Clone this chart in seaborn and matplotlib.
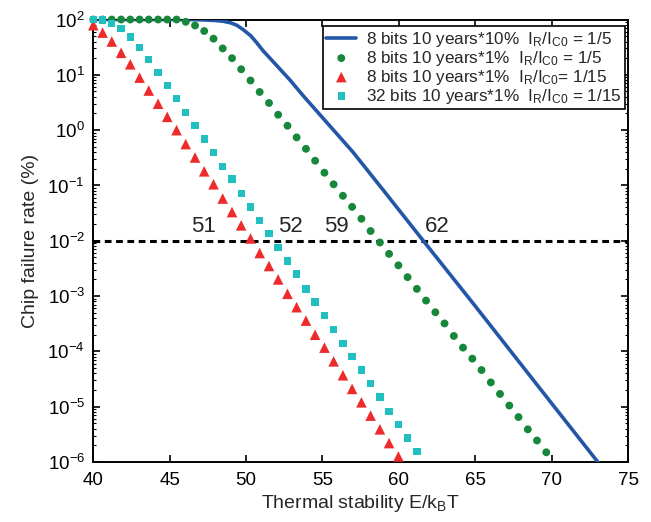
import numpy as np
import pandas as pd
import matplotlib
matplotlib.use('Agg')
import matplotlib.pyplot as plt
import seaborn as sns
from matplotlib.ticker import FixedLocator, NullFormatter

# thermal stability grid shared by the marker series
stability = [40.00, 40.61, 41.21, 41.82, 42.42, 43.03, 43.63, 44.24, 44.84, 45.45,
             46.05, 46.66, 47.26, 47.87, 48.47, 49.08, 49.68, 50.29, 50.89, 51.50,
             52.10, 52.71, 53.31, 53.92, 54.52, 55.13, 55.73, 56.34, 56.94, 57.55,
             58.15, 58.76, 59.36, 59.97, 60.57, 61.18, 61.78, 62.39, 62.99, 63.60,
             64.20, 64.81, 65.41, 66.02, 66.62, 67.23, 67.83, 68.44, 69.04, 69.65]

# 8 bits 10 years*10%  IR/IC0 = 1/5 (solid line)
blue_x = [40.0, 44.0, 46.3, 47.0, 47.5, 48.0, 48.5, 49.0, 49.4, 49.8, 50.3, 50.7,
          51.1, 52.0, 52.9, 53.8, 54.6, 57.0, 59.0, 61.6, 65.0, 70.0, 73.3]
blue_y = [100, 100, 99.5, 99, 97.5, 96, 93, 87, 78.5, 66, 51, 38,
          27.5, 14.8, 7.9, 4.0, 2.25, 0.40, 0.081, 0.01, 6.6e-4, 1.15e-5, 8e-7]

# 8 bits 10 years*1%  IR/IC0 = 1/5 (green dots)
green_y = [100, 100, 100, 100, 100, 100, 100, 100, 100, 100,
           91, 78, 62, 45, 30, 20, 12.6, 7.9, 4.9, 3.1,
           1.9, 1.2, 0.74, 0.46, 0.28, 0.17, 0.105, 0.065, 0.041, 0.025,
           0.015, 9.3e-3, 5.8e-3, 3.6e-3, 2.2e-3, 1.35e-3, 8.3e-4, 5.1e-4, 3.2e-4, 1.9e-4,
           1.17e-4, 7.4e-5, 4.6e-5, 2.75e-5, 1.7e-5, 1.05e-5, 6.5e-6, 3.9e-6, 2.45e-6, 1.5e-6]

# 8 bits 10 years*1%  IR/IC0 = 1/15 (red triangles)
red_y = [79, 58, 40, 25, 15.5, 8.9, 5.2, 3.0, 1.74, 1.0,
         0.56, 0.32, 0.18, 0.105, 0.058, 0.033, 0.019, 0.011, 6.0e-3, 3.5e-3,
         2.0e-3, 1.1e-3, 6.3e-4, 3.6e-4, 2.0e-4, 1.17e-4, 6.6e-5, 3.7e-5, 2.1e-5, 1.2e-5,
         6.9e-6, 3.9e-6, 2.2e-6, 1.26e-6]

# 32 bits 10 years*1%  IR/IC0 = 1/15 (cyan squares)
cyan_y = [100, 98, 85, 68, 48, 31, 19, 11, 6.5, 3.7,
          2.1, 1.23, 0.69, 0.39, 0.22, 0.13, 0.071, 0.041, 0.023, 0.0135,
          7.6e-3, 4.3e-3, 2.5e-3, 1.35e-3, 7.8e-4, 4.5e-4, 2.5e-4, 1.4e-4, 8.1e-5, 4.6e-5,
          2.6e-5, 1.5e-5, 8.3e-6, 4.8e-6, 2.7e-6, 1.55e-6]

labels = ['8 bits 10 years*10%  I$_\\mathregular{R}$/I$_\\mathregular{C0}$ = 1/5',
          '8 bits 10 years*1%  I$_\\mathregular{R}$/I$_\\mathregular{C0}$ = 1/5',
          '8 bits 10 years*1%  I$_\\mathregular{R}$/I$_\\mathregular{C0}$= 1/15',
          '32 bits 10 years*1%  I$_\\mathregular{R}$/I$_\\mathregular{C0}$ = 1/15']

target_rate = 1e-2
annot_text = ['51', '52', '59', '62']
annot_x = [47.2, 52.9, 55.9, 62.5]
annot_y = 0.0178

x_ticks = [40, 45, 50, 55, 60, 65, 70, 75]
y_ticks = [1e-6, 1e-5, 1e-4, 1e-3, 1e-2, 1e-1, 1e0, 1e1, 1e2]

sns.set_style('ticks')
plt.rcParams['font.family'] = ['Liberation Sans', 'DejaVu Sans']
plt.rcParams['mathtext.fontset'] = 'custom'
plt.rcParams['mathtext.rm'] = 'Liberation Sans'
plt.rcParams['mathtext.it'] = 'Liberation Sans:italic'
plt.rcParams['mathtext.bf'] = 'Liberation Sans:bold'

fig = plt.figure(figsize=(6.51, 5.22), dpi=100)
ax = fig.add_axes([0.1433, 0.1149, 0.8214, 0.8477])

# target line
ax.axhline(target_rate, color='black', lw=2.2, dashes=(2.2, 1.5), zorder=1)

sns.lineplot(x=blue_x, y=blue_y, color='#2456a8', lw=2.6, sort=False,
             estimator=None, ax=ax, label=labels[0], zorder=3)
sns.scatterplot(x=stability, y=green_y, color='#17883b', marker='o', s=32,
                edgecolor='none', ax=ax, label=labels[1], zorder=4, clip_on=False)
sns.scatterplot(x=stability[:len(red_y)], y=red_y, color='#ee2b2b', marker='^', s=58,
                edgecolor='none', ax=ax, label=labels[2], zorder=5, clip_on=False)
sns.scatterplot(x=stability[:len(cyan_y)], y=cyan_y, color='#20bfc0', marker='s', s=28,
                edgecolor='none', ax=ax, label=labels[3], zorder=6, clip_on=False)

for t, xx in zip(annot_text, annot_x):
    ax.text(xx, annot_y, t, fontsize=16, ha='center', va='center')

ax.set_yscale('log')
ax.set_xlim(40, 75)
ax.set_ylim(1e-6, 1e2)
ax.set_xticks(x_ticks)
ax.set_yticks(y_ticks)
minor = [m * d for d in y_ticks[:-1] for m in range(2, 10)]
ax.yaxis.set_minor_locator(FixedLocator(minor))
ax.yaxis.set_minor_formatter(NullFormatter())

ax.tick_params(which='both', direction='in', top=True, right=True, colors='black',
               labelsize=13.5)
ax.tick_params(which='major', length=5, width=1.2)
ax.tick_params(which='minor', length=2.5, width=0.8)
ax.tick_params(axis='x', pad=7)
ax.tick_params(axis='y', pad=6)
for s in ax.spines.values():
    s.set_linewidth(1.4)
    s.set_color('black')

ax.set_xlabel('Thermal stability E/k$_\\mathregular{B}$T', fontsize=14, labelpad=3)
ax.set_ylabel('Chip failure rate (%)', fontsize=14, labelpad=6)

leg = ax.legend(loc='upper right', bbox_to_anchor=(0.995, 0.985), borderaxespad=0,
                fontsize=12.3, labelspacing=0.0, handlelength=1.75, handletextpad=0.6,
                borderpad=0.2, fancybox=False, framealpha=1, edgecolor='black')
leg.get_frame().set_linewidth(1.2)

fig.savefig('out.png', dpi=100)
